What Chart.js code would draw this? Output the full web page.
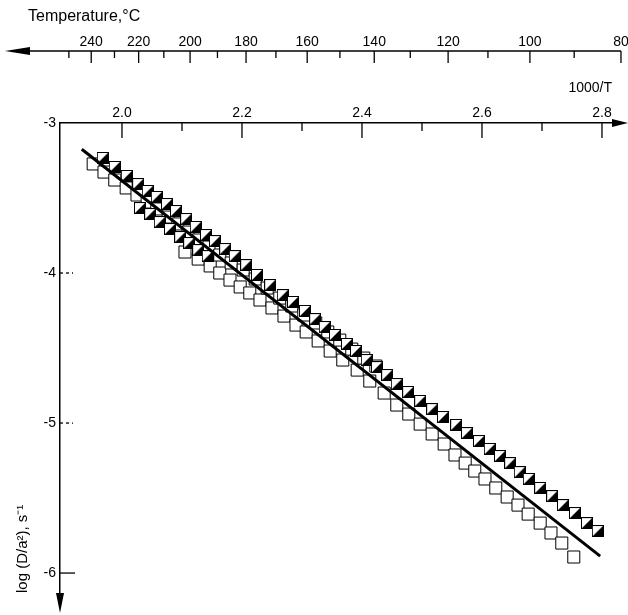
<!DOCTYPE html>
<html>
<head>
<meta charset="utf-8">
<script src="https://cdn.jsdelivr.net/npm/chart.js@4.4.1/dist/chart.umd.min.js"></script>
<style>
  html, body { margin: 0; padding: 0; background: #fff; }
  #wrap { width: 628px; height: 615px; }
</style>
</head>
<body>
<div id="wrap"><canvas id="arrhenius"></canvas></div>
<script>
// ticks
const invTicks = [2.0, 2.2, 2.4, 2.6, 2.8];
const invMinor = [2.1, 2.3, 2.5, 2.7];
const tempTicks = [240, 220, 200, 180, 160, 140, 120, 100, 80];
const tempMinor = [250, 230, 210, 190, 170, 150, 130, 110, 90];
const logTicks = [-3, -4, -5, -6];

// half-filled squares, main run
const halfX = [1.968, 1.988, 2.008, 2.027, 2.043, 2.058, 2.075, 2.090, 2.107, 2.123, 2.140, 2.155,
  2.172, 2.188, 2.207, 2.225, 2.247, 2.268, 2.285, 2.305, 2.322, 2.338, 2.355, 2.375, 2.390, 2.408,
  2.425, 2.442, 2.458, 2.477, 2.497, 2.517, 2.535, 2.557, 2.575, 2.595, 2.613, 2.630, 2.647, 2.663,
  2.678, 2.697, 2.717, 2.735, 2.755, 2.775, 2.793];
const halfY = [-3.233, -3.293, -3.353, -3.407, -3.453, -3.493, -3.540, -3.587, -3.640, -3.693, -3.747, -3.787,
  -3.840, -3.887, -3.947, -4.013, -4.080, -4.147, -4.193, -4.253, -4.307, -4.360, -4.413, -4.473, -4.520, -4.580,
  -4.627, -4.680, -4.740, -4.793, -4.853, -4.907, -4.960, -5.013, -5.067, -5.120, -5.173, -5.220, -5.267, -5.327,
  -5.373, -5.433, -5.487, -5.547, -5.600, -5.667, -5.720];

// half-filled squares, short lower branch
const half2X = [2.030, 2.047, 2.063, 2.080, 2.097, 2.112, 2.127, 2.143];
const half2Y = [-3.567, -3.607, -3.660, -3.707, -3.760, -3.800, -3.847, -3.887];

// open squares, upper run
const openAX = [1.952, 1.970, 1.988, 2.007, 2.025, 2.042, 2.058, 2.077, 2.093, 2.110, 2.127, 2.145,
  2.163, 2.182, 2.202, 2.222, 2.242, 2.263, 2.283, 2.303, 2.323, 2.343, 2.363, 2.383, 2.403, 2.423];
const openAY = [-3.273, -3.327, -3.380, -3.433, -3.480, -3.527, -3.573, -3.627, -3.673, -3.727, -3.780, -3.827,
  -3.880, -3.933, -3.980, -4.040, -4.100, -4.167, -4.220, -4.280, -4.333, -4.393, -4.447, -4.507, -4.567, -4.620];

// open squares, lower run
const openBX = [2.105, 2.127, 2.147, 2.163, 2.180, 2.197, 2.213, 2.230, 2.250, 2.270, 2.290, 2.307,
  2.327, 2.347, 2.368, 2.392, 2.413, 2.437, 2.458, 2.478, 2.497, 2.517, 2.537, 2.555, 2.572, 2.588,
  2.605, 2.623, 2.642, 2.660, 2.677, 2.697, 2.715, 2.733, 2.753];
const openBY = [-3.860, -3.907, -3.953, -4.000, -4.047, -4.093, -4.133, -4.180, -4.233, -4.287, -4.347, -4.393,
  -4.453, -4.520, -4.580, -4.647, -4.720, -4.800, -4.880, -4.940, -5.007, -5.073, -5.140, -5.213, -5.267, -5.320,
  -5.373, -5.433, -5.493, -5.547, -5.607, -5.667, -5.733, -5.800, -5.893];

// fitted line
const fitX = [1.933, 2.797];
const fitY = [-3.175, -5.887];

const pts = (xs, ys) => xs.map((x, i) => ({ x: x, y: ys[i] }));
const font = { family: "'Liberation Sans', Arial, sans-serif", size: 14 };
const toInv = t => 1000 / (t + 273.15);

// square with lower-right half black
function halfSquare(size) {
  const c = document.createElement('canvas');
  c.width = size; c.height = size;
  const g = c.getContext('2d');
  g.fillStyle = '#fff';
  g.fillRect(0, 0, size, size);
  g.fillStyle = '#000';
  g.beginPath();
  g.moveTo(size, 0); g.lineTo(size, size); g.lineTo(0, size);
  g.closePath(); g.fill();
  g.strokeStyle = '#000'; g.lineWidth = 1;
  g.strokeRect(0.5, 0.5, size - 1, size - 1);
  return c;
}
const halfImg = halfSquare(12);

const axisDeco = {
  id: 'axisDeco',
  afterDraw(chart) {
    const { ctx, chartArea: a, scales: { x, y } } = chart;
    ctx.save();
    ctx.strokeStyle = '#000';
    ctx.fillStyle = '#000';
    ctx.lineWidth = 1.3;
    const seg = (x1, y1, x2, y2) => { ctx.beginPath(); ctx.moveTo(x1, y1); ctx.lineTo(x2, y2); ctx.stroke(); };
    const tri = (p) => { ctx.beginPath(); ctx.moveTo(p[0], p[1]); ctx.lineTo(p[2], p[3]); ctx.lineTo(p[4], p[5]); ctx.closePath(); ctx.fill(); };

    // 1000/T ticks hanging into the plot
    invTicks.forEach(v => { const px = x.getPixelForValue(v); seg(px, a.top, px, a.top + 15); });
    invMinor.forEach(v => { const px = x.getPixelForValue(v); seg(px, a.top, px, a.top + 8); });

    // temperature axis
    const ty = 51;
    const tEnd = x.getPixelForValue(toInv(80));
    seg(22, ty, tEnd, ty);
    tri([5, ty, 30, ty - 4, 30, ty + 4]);
    tempTicks.forEach(t => { const px = x.getPixelForValue(toInv(t)); seg(px, ty, px, ty + 12); });
    tempMinor.forEach(t => { const px = x.getPixelForValue(toInv(t)); seg(px, ty, px, ty + 7); });

    // y ticks
    ctx.setLineDash([3, 3]);
    [-4, -5].forEach(v => { const py = y.getPixelForValue(v); seg(a.left, py, a.left + 13, py); });
    ctx.setLineDash([]);
    const p6 = y.getPixelForValue(-6);
    seg(a.left, p6, a.left + 15, p6);

    // arrows
    tri([a.right + 16, a.top, a.right, a.top - 4, a.right, a.top + 4]);
    tri([a.left, a.bottom + 20, a.left - 4, a.bottom, a.left + 4, a.bottom]);

    ctx.font = "16px 'Liberation Sans', Arial, sans-serif";
    ctx.textBaseline = 'middle';
    ctx.textAlign = 'left';
    ctx.fillText('Temperature,°C', 28, 17);
    ctx.restore();
  }
};

new Chart(document.getElementById('arrhenius'), {
  type: 'scatter',
  data: {
    datasets: [
      { label: 'fit', data: pts(fitX, fitY), showLine: true, borderColor: '#000', borderWidth: 3,
        pointRadius: 0, order: 0 },
      { label: 'half', data: pts(halfX, halfY), pointStyle: halfImg, pointRadius: 6, order: 1 },
      { label: 'half2', data: pts(half2X, half2Y), pointStyle: halfImg, pointRadius: 6, order: 1 },
      { label: 'openA', data: pts(openAX, openAY), pointStyle: 'rect', pointRadius: 8.5,
        borderColor: '#000', borderWidth: 1, backgroundColor: '#fff', order: 2 },
      { label: 'openB', data: pts(openBX, openBY), pointStyle: 'rect', pointRadius: 8.5,
        borderColor: '#000', borderWidth: 1, backgroundColor: '#fff', order: 2 }
    ]
  },
  options: {
    responsive: true,
    maintainAspectRatio: false,
    animation: false,
    layout: { padding: { left: 0, right: 16, top: 0, bottom: 22 } },
    plugins: { legend: { display: false }, tooltip: { enabled: false } },
    scales: {
      x: {
        type: 'linear', position: 'top', weight: 0, min: 1.8967, max: 2.8167,
        afterBuildTicks: s => { s.ticks = invTicks.map(v => ({ value: v })); },
        afterFit: s => { s.height = 72; s.paddingLeft = 0; s.paddingRight = 0; },
        grid: { display: false },
        border: { display: true, color: '#000', width: 1.5 },
        ticks: { color: '#000', font: font, padding: -7, autoSkip: false, maxRotation: 0,
          callback: v => v.toFixed(1) },
        title: { display: true, text: '1000/T', align: 'end', color: '#000', font: font,
          padding: { top: 29, bottom: 0 } }
      },
      x2: {
        type: 'linear', position: 'top', weight: 10, min: 1.8967, max: 2.8167,
        afterBuildTicks: s => { s.ticks = tempTicks.map(t => ({ value: toInv(t) })); },
        afterFit: s => { s.height = 51; s.paddingLeft = 0; s.paddingRight = 0; },
        grid: { display: false },
        border: { display: false },
        ticks: { color: '#000', font: font, padding: -8, autoSkip: false, maxRotation: 0,
          callback: v => String(Math.round(1000 / v - 273.15)) }
      },
      y: {
        type: 'linear', position: 'left', min: -6.133, max: -3,
        afterBuildTicks: s => { s.ticks = logTicks.map(v => ({ value: v })); },
        afterFit: s => { s.width = 60; s.paddingTop = 0; s.paddingBottom = 0; },
        grid: { display: false },
        border: { display: true, color: '#000', width: 1.5 },
        ticks: { color: '#000', font: font, padding: -4, callback: v => String(v) },
        title: { display: true, text: 'log (D/a²), s⁻¹', align: 'start', color: '#000',
          font: { family: font.family, size: 15 }, padding: { top: 14, bottom: 0 } }
      }
    }
  },
  plugins: [axisDeco]
});
</script>
</body>
</html>
